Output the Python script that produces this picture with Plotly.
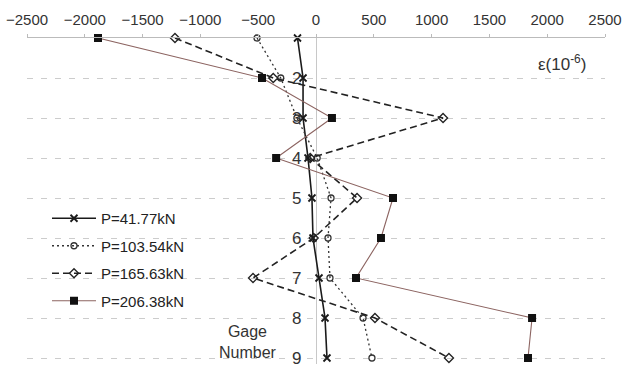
import plotly.graph_objects as go

gauges = [1, 2, 3, 4, 5, 6, 7, 8, 9]
strain_41 = [-160, -112, -112, -69, -35, -26, 26, 78, 95]
strain_103 = [-510, -305, -165, 10, 130, 104, 121, 407, 484]
strain_165 = [-1220, -370, 1099, -50, 355, -20, -545, 510, 1150]
strain_206 = [-1886, -467, 138, -345, 666, 562, 346, 1869, 1834]

series_names = ["P=41.77kN", "P=103.54kN", "P=165.63kN", "P=206.38kN"]
label_gauges = [2, 3, 4, 5, 6, 7, 8, 9]
x_ticks = [-2500, -2000, -1500, -1000, -500, 0, 500, 1000, 1500, 2000, 2500]

FONT = "Liberation Sans, Arial, sans-serif"

fig = go.Figure()

fig.add_trace(go.Scatter(
    x=strain_41, y=gauges, name=series_names[0], mode="lines+markers",
    line=dict(color="#1a1a1a", width=1.6),
    marker=dict(symbol="x-thin", size=7, color="#1a1a1a", line=dict(width=1.8, color="#1a1a1a")),
    cliponaxis=False, legendgroup="a"))
fig.add_trace(go.Scatter(
    x=strain_103, y=gauges, name=series_names[1], mode="lines+markers",
    line=dict(color="#333333", width=1.3, dash="2px,3px"),
    marker=dict(symbol="circle-open", size=6, color="#333333", line=dict(width=1.3)),
    cliponaxis=False, legendgroup="b"))
fig.add_trace(go.Scatter(
    x=strain_165, y=gauges, name=series_names[2], mode="lines+markers",
    line=dict(color="#222222", width=1.6, dash="7px,4px"),
    marker=dict(symbol="diamond-open", size=7, color="#222222", line=dict(width=1.3)),
    cliponaxis=False, legendgroup="c"))
fig.add_trace(go.Scatter(
    x=strain_206, y=gauges, name=series_names[3], mode="lines+markers",
    line=dict(color="#8c6461", width=1.1),
    marker=dict(symbol="square", size=8, color="#111111"),
    cliponaxis=False, legendgroup="d"))

for g in label_gauges:
    fig.add_annotation(x=-165, y=g, text=str(g), showarrow=False,
                       font=dict(size=17, color="#333333", family=FONT),
                       xanchor="center", yanchor="middle")

fig.add_annotation(x=-590, y=8.6, text="Gage<br>Number", showarrow=False,
                   font=dict(size=16, color="#333333", family=FONT), align="center")
fig.add_annotation(x=2128, y=1.62, text="ε(10<sup>-6</sup>)", showarrow=False,
                   font=dict(size=17, color="#333333", family=FONT))

fig.update_layout(
    width=628, height=367,
    margin=dict(l=27, r=23, t=38, b=3, autoexpand=False),
    paper_bgcolor="white", plot_bgcolor="white",
    font=dict(family=FONT, color="#333333"),
    xaxis=dict(range=[-2500, 2500], side="top", tickvals=x_ticks,
               showgrid=False, zeroline=True, zerolinecolor="#c8c8c8", zerolinewidth=1,
               showline=True, linecolor="#bbbbbb", linewidth=1,
               ticks="outside", ticklen=3, tickcolor="#bbbbbb",
               tickfont=dict(size=15, color="#333333"), ticklabelstandoff=3,
               automargin=False, fixedrange=True),
    yaxis=dict(range=[9.15, 1], showticklabels=False, tickvals=gauges,
               showgrid=True, gridcolor="#cccccc", griddash="6px,8px", gridwidth=1,
               zeroline=False, showline=False, automargin=False, fixedrange=True),
    legend=dict(x=47 / 628, xref="container", y=(367 - 202) / 367, yref="container",
                xanchor="left", yanchor="top", tracegroupgap=5, traceorder="grouped",
                font=dict(size=15, color="#222222", family=FONT),
                bgcolor="rgba(0,0,0,0)", itemwidth=44),
    showlegend=True,
)

fig.write_html("out.html", config={"displayModeBar": False})
with open("out.html", "r", encoding="utf-8") as f:
    html = f.read()
html = html.replace("<body>", '<body style="margin:0;padding:0;">', 1)
html = html.replace("<head>", "<head><style>html,body{margin:0;padding:0;}</style>", 1)
with open("out.html", "w", encoding="utf-8") as f:
    f.write(html)
